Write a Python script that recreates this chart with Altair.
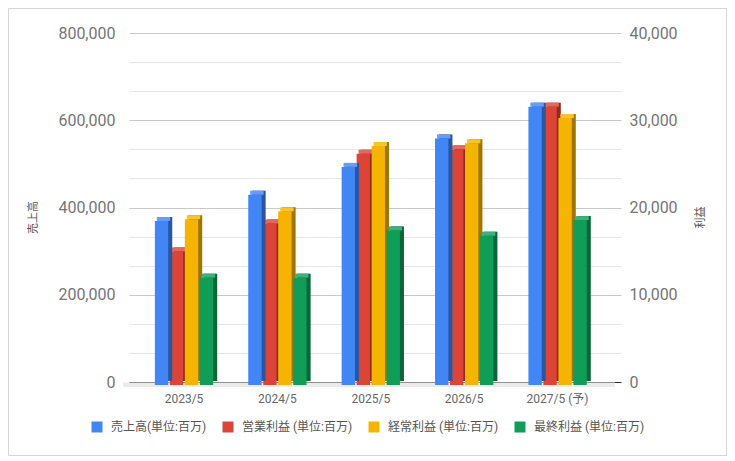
import altair as alt
import pandas as pd

YEARS = ["2023/5", "2024/5", "2025/5", "2026/5", "2027/5 (予)"]
SERIES = ["売上高(単位:百万)", "営業利益 (単位:百万)", "経常利益 (単位:百万)", "最終利益 (単位:百万)"]
SALES = [376000, 436000, 500000, 565000, 638000]
OPERATING = [15300, 18500, 26500, 27000, 31900]
ORDINARY = [19000, 19900, 27400, 27700, 30600]
NET = [12300, 12300, 17700, 17100, 18900]
COLORS = ["#4285F4", "#DB4437", "#F4B400", "#0F9D58"]
LEFT_TICKS = [0, 200000, 400000, 600000, 800000]
RIGHT_GRID = [i * 10000 / 3 for i in range(13)]

rows = []
for series, vals in zip(SERIES, [SALES, OPERATING, ORDINARY, NET]):
    for y, v in zip(YEARS, vals):
        rows.append({"year": y, "series": series, "value": v})
df = pd.DataFrame(rows)

FONT = "Roboto, 'Noto Sans CJK JP', sans-serif"
BAND = 58.3  # width of one year group in px

x_enc = alt.X("year:N", sort=YEARS,
              scale=alt.Scale(paddingInner=0.376, paddingOuter=0.322, align=0.43),
              axis=alt.Axis(title=None, labelAngle=0, labelFontSize=12, labelColor="#666666",
                            labelPadding=11, ticks=False, domain=True, domainColor="#333333",
                            domainWidth=1, grid=False))


def xo_enc(shift):
    return alt.XOffset("series:N", sort=SERIES,
                       scale=alt.Scale(domain=SERIES, paddingInner=0.11, paddingOuter=0,
                                       range=[shift, BAND + shift]))


col_enc = alt.Color("series:N", sort=SERIES,
                    scale=alt.Scale(domain=SERIES, range=COLORS),
                    legend=alt.Legend(title=None, orient="none", legendX=-38, legendY=388,
                                      direction="horizontal", symbolType="square",
                                      symbolSize=121, symbolStrokeWidth=0, symbolOpacity=1,
                                      labelFontSize=12, labelColor="#555555",
                                      labelOffset=8, columnPadding=15, labelLimit=0))

left_axis = alt.Axis(values=LEFT_TICKS, labelExpr="format(datum.value, ',.0f')",
                     grid=False, ticks=False, domain=False,
                     labelFontSize=16, labelColor="#757575", labelPadding=14,
                     title="売上高", titleFontSize=11, titleColor="#555555",
                     titleFontWeight="normal", titleAngle=270, titleX=-96, titleY=184,
                     titleAlign="center", titleBaseline="middle")
right_axis = alt.Axis(values=RIGHT_GRID, orient="right", grid=True,
                      gridColor={"condition": {"test": "datum.value % 10000 === 0",
                                               "value": "#c8c8c8"},
                                 "value": "#e6e6e6"},
                      labelExpr="datum.value % 10000 === 0 ? format(datum.value, ',.0f') : ''",
                      ticks=False, domain=False, labelFontSize=16, labelColor="#757575",
                      labelPadding=8, title="利益", titleFontSize=11, titleColor="#555555",
                      titleFontWeight="normal", titleAngle=270, titleX=79, titleY=184,
                      titleAlign="center", titleBaseline="middle")


def bar_group(data, yscale, axis):
    base = alt.Chart(data)
    y_enc = alt.Y("value:Q", scale=yscale, axis=axis)
    side = base.mark_bar(yOffset=-1, y2Offset=-1).encode(
        x=x_enc, xOffset=xo_enc(4), y=y_enc, color=col_enc)
    side_dark = base.mark_bar(yOffset=-1, y2Offset=-1, color="black",
                              opacity=0.35).encode(x=x_enc, xOffset=xo_enc(4), y=y_enc)
    top = base.mark_bar(yOffset=-1, y2Offset=3).encode(
        x=x_enc, xOffset=xo_enc(2), y=y_enc, y2=alt.Y2("value:Q"), color=col_enc)
    top_light = base.mark_bar(yOffset=-1, y2Offset=3, color="white",
                              opacity=0.2).encode(x=x_enc, xOffset=xo_enc(2), y=y_enc,
                                                  y2=alt.Y2("value:Q"))
    front = base.mark_bar(yOffset=3, y2Offset=3).encode(
        x=x_enc, xOffset=xo_enc(0), y=y_enc, color=col_enc)
    return alt.layer(side, side_dark, top, top_light, front).resolve_scale(
        xOffset="independent")


one = alt.Data(values=[{"k": 1}])
floor = alt.Chart(one).mark_rect(color="#ebebeb").encode(
    x=alt.value(-6), x2=alt.value(486), y=alt.value(349.5), y2=alt.value(354))
border = alt.Chart(one).mark_rect(fill="transparent", stroke="#d6d6d6", strokeWidth=1).encode(
    x=alt.value(-120.5), x2=alt.value(597.5), y=alt.value(-24.5), y2=alt.value(422.5))

sales_layer = bar_group(df[df["series"] == SERIES[0]],
                        alt.Scale(domain=[0, 800000], nice=False), left_axis)
profit_layer = bar_group(df[df["series"] != SERIES[0]],
                         alt.Scale(domain=[0, 40000], nice=False), right_axis)

chart = alt.layer(border, floor, profit_layer, sales_layer).resolve_scale(
    y="independent", xOffset="independent"
).properties(
    width=492, height=349,
    autosize=alt.AutoSizeParams(type="none"),
    padding={"left": 121, "top": 25, "right": 106, "bottom": 74},
).configure(font=FONT).configure_view(strokeWidth=0)

chart.save("out.html", embed_options={"renderer": "svg", "actions": False})
